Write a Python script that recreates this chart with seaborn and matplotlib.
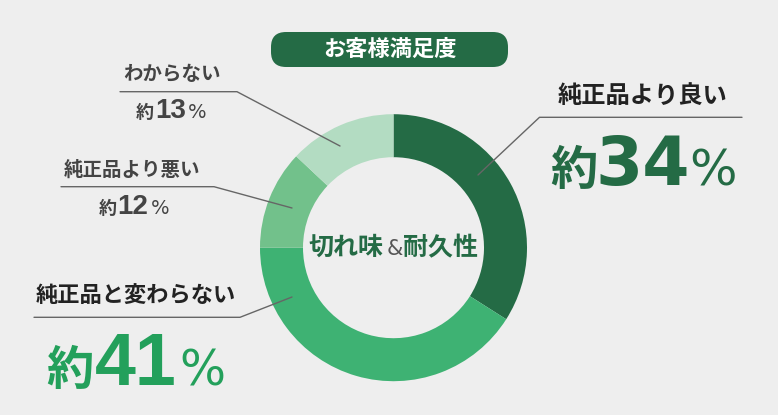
import matplotlib
matplotlib.use("Agg")
import matplotlib.pyplot as plt
import seaborn as sns
from matplotlib.patches import FancyBboxPatch

# Data
categories = ["純正品より良い", "純正品と変わらない", "純正品より悪い", "わからない"]
shares = [34, 41, 12, 13]
seg_colors = ["#246b45", "#3eb273", "#72c18b", "#b3dcc2"]
title = "お客様満足度"
center_left, center_amp, center_right = "切れ味", "&", "耐久性"

sns.set_theme(style="white")
plt.rcParams["font.family"] = ["Noto Sans CJK JP", "DejaVu Sans"]

W, H = 778, 415
BG = "#eeeeee"
fig = plt.figure(figsize=(W / 100, H / 100), dpi=100, facecolor=BG)
ax = fig.add_axes([0, 0, 1, 1])
ax.set_facecolor(BG)


def Y(y):
    # image pixel row -> data y
    return H - y


# Donut
cx, cy = 393.5, 247.7
ax.pie(shares, colors=seg_colors, radius=133.5, center=(cx, Y(cy)),
       startangle=90, counterclock=False, frame=True,
       wedgeprops=dict(width=43, edgecolor="none"))
ax.set_xlim(0, W)
ax.set_ylim(0, H)
ax.axis("off")

# Title pill
ax.add_patch(FancyBboxPatch((271, Y(67)), 237, 35,
                            boxstyle="round,pad=0,rounding_size=15",
                            fc="#246b45", ec="none", zorder=3))
ax.text(389.5, Y(49.5), title, color="white", fontsize=16, fontweight="bold",
        ha="center", va="center", zorder=4)

# Center label
ax.text(383, Y(248), center_left, color="#246b45", fontsize=18, fontweight="bold",
        ha="right", va="center")
ax.text(394.5, Y(249), center_amp, color="#555555", fontsize=15,
        ha="center", va="center", family=["DejaVu Sans"])
ax.text(403, Y(248), center_right, color="#246b45", fontsize=18, fontweight="bold",
        ha="left", va="center")

# Leader lines
leaders = [
    [(478, 175), (539.5, 117.3), (742, 117.3)],
    [(292, 297), (240, 317.3), (34, 317.3)],
    [(292, 208), (214, 186.7), (61, 186.7)],
    [(340, 146), (237, 91.7), (120, 91.7)],
]
for pts in leaders:
    ax.plot([p[0] for p in pts], [Y(p[1]) for p in pts], color="#666666", lw=1, zorder=5)

# Category labels
label_pos = [(643, 96), (136, 295), (132, 170), (171.5, 74)]
label_size = [17.5, 16, 14, 14]
label_color = ["#222222", "#222222", "#444444", "#444444"]
for name, (x, y), s, c in zip(categories, label_pos, label_size, label_color):
    ax.text(x, Y(y), name, fontsize=s, color=c, fontweight="bold", ha="center", va="center")

# Percent values: (約 x, digits x, % x, baseline, sizes, digit font, colour)
value_layout = [
    (550, 595, 689, 185, (34, 49, 36), "DejaVu Sans", "#246b45"),
    (46.5, 94.5, 179, 385, (34, 53, 35), "Liberation Sans", "#23a05b"),
    (99, 117, 150.5, 213.5, (13, 20, 14), "Liberation Sans", "#444444"),
    (136, 155, 187.5, 118, (13, 20, 14), "Liberation Sans", "#444444"),
]
for v, (x1, x2, x3, b, (s1, s2, s3), dfont, c) in zip(shares, value_layout):
    ax.text(x1, Y(b), "約", fontsize=s1, color=c, fontweight="bold", ha="left", va="baseline")
    ax.text(x2, Y(b), str(v), fontsize=s2, color=c, fontweight="bold", ha="left", va="baseline",
            family=[dfont])
    ax.text(x3, Y(b), "%", fontsize=s3, color=c, ha="left", va="baseline",
            family=["DejaVu Sans"])

fig.savefig("out.png", dpi=100, facecolor=BG)
